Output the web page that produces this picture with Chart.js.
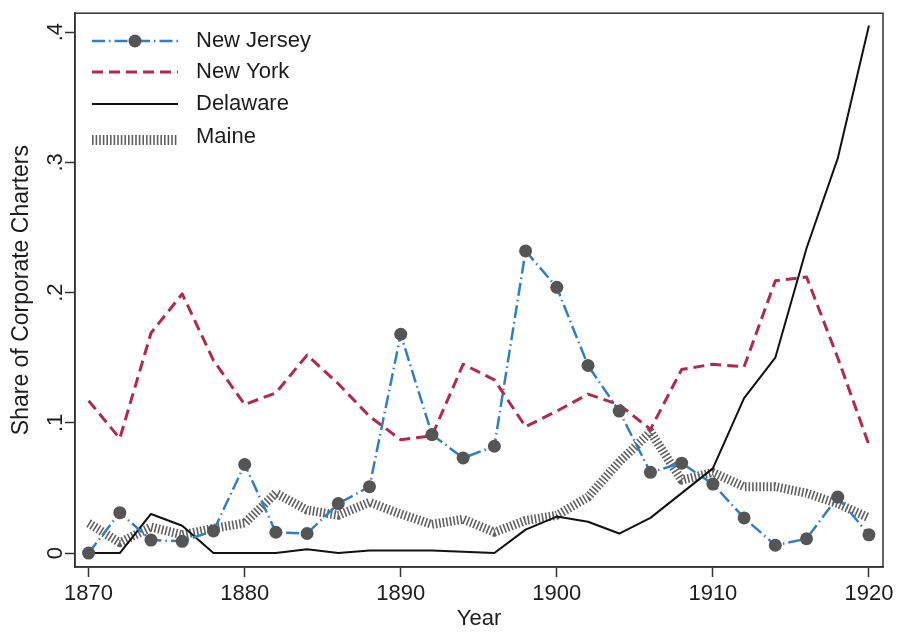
<!DOCTYPE html>
<html>
<head>
<meta charset="utf-8">
<script src="https://cdn.jsdelivr.net/npm/chart.js@4.4.0/dist/chart.umd.min.js"></script>
<style>
  html, body { margin: 0; padding: 0; background: #fff; }
  #wrap { width: 899px; height: 636px; }
</style>
</head>
<body>
<div id="wrap"><canvas id="chart" width="899" height="636"></canvas></div>
<script>
// --- Datos ---
const years = [1870, 1872, 1874, 1876, 1878, 1880, 1882, 1884, 1886, 1888, 1890, 1892, 1894,
               1896, 1898, 1900, 1902, 1904, 1906, 1908, 1910, 1912, 1914, 1916, 1918, 1920];
const newJersey = [0, 0.031, 0.010, 0.009, 0.017, 0.068, 0.016, 0.015, 0.038, 0.051, 0.168, 0.091, 0.073,
                   0.082, 0.232, 0.204, 0.144, 0.109, 0.062, 0.069, 0.053, 0.027, 0.006, 0.011, 0.043, 0.014];
const newYork = [0.117, 0.088, 0.169, 0.199, 0.148, 0.114, 0.123, 0.152, 0.130, 0.105, 0.087, 0.090, 0.145,
                 0.133, 0.097, 0.109, 0.122, 0.114, 0.095, 0.141, 0.145, 0.143, 0.209, 0.212, 0.150, 0.083];
const delaware = [0, 0, 0.030, 0.021, 0, 0, 0, 0.003, 0, 0.002, 0.002, 0.002, 0.001,
                  0, 0.018, 0.028, 0.024, 0.015, 0.027, 0.046, 0.065, 0.119, 0.150, 0.234, 0.303, 0.405];
const maine = [0.023, 0.008, 0.020, 0.014, 0.019, 0.023, 0.046, 0.033, 0.029, 0.039, 0.030, 0.022, 0.026,
               0.016, 0.025, 0.029, 0.043, 0.070, 0.093, 0.056, 0.062, 0.051, 0.051, 0.046, 0.038, 0.027];
const xTicks = [1870, 1880, 1890, 1900, 1910, 1920];
const yTicks = [0, 0.1, 0.2, 0.3, 0.4];
const seriesNames = ['New Jersey', 'New York', 'Delaware', 'Maine'];

const FONT = '"Liberation Sans", Arial, sans-serif';
const INK = '#1c1c1c';

const toPoints = vals => years.map((x, i) => ({ x: x, y: vals[i] }));

// Estilos de cada serie (para el gráfico y la leyenda)
const styles = [
  { color: '#2f7fc2', width: 2.5, dash: [13, 4, 1.5, 4], point: true },
  { color: '#b02a4e', width: 3, dash: [11, 6], point: false },
  { color: '#111', width: 2, dash: [], point: false },
  { color: '#606060', width: 9, dash: [1.6, 2], point: false }
];

// Marco completo alrededor del área del gráfico
const framePlugin = {
  id: 'frame',
  afterDatasetsDraw(chart) {
    const a = chart.chartArea, ctx = chart.ctx;
    ctx.save();
    ctx.strokeStyle = '#333';
    ctx.lineWidth = 1.5;
    ctx.strokeRect(a.left, a.top, a.right - a.left, a.bottom - a.top);
    ctx.restore();
  }
};

// Leyenda dentro del gráfico (arriba a la izquierda)
const legendPlugin = {
  id: 'innerLegend',
  afterDraw(chart) {
    const ctx = chart.ctx;
    const x0 = 92, x1 = 178, tx = 196;
    const rows = [41, 72, 104, 137];
    ctx.save();
    seriesNames.forEach((name, i) => {
      const s = styles[i];
      const y = rows[i] + (i === 3 ? 3 : 0);
      ctx.beginPath();
      ctx.setLineDash(s.dash);
      ctx.lineWidth = i === 3 ? 10 : s.width;
      ctx.strokeStyle = s.color;
      ctx.moveTo(x0, y);
      ctx.lineTo(x1, y);
      ctx.stroke();
      if (s.point) {
        ctx.setLineDash([]);
        ctx.beginPath();
        ctx.arc((x0 + x1) / 2, y, 6.5, 0, Math.PI * 2);
        ctx.fillStyle = '#555';
        ctx.fill();
      }
      ctx.setLineDash([]);
      ctx.fillStyle = INK;
      ctx.font = '22px ' + FONT;
      ctx.textBaseline = 'middle';
      ctx.textAlign = 'left';
      ctx.fillText(name, tx, rows[i]);
    });
    ctx.restore();
  }
};

const series = [newJersey, newYork, delaware, maine];
const datasets = series.map((vals, i) => ({
  label: seriesNames[i],
  data: toPoints(vals),
  borderColor: styles[i].color,
  borderWidth: styles[i].width,
  borderDash: styles[i].dash,
  borderCapStyle: 'butt',
  borderJoinStyle: 'round',
  pointRadius: styles[i].point ? 6.5 : 0,
  pointBackgroundColor: '#555',
  pointBorderWidth: 0,
  tension: 0,
  fill: false
}));

new Chart(document.getElementById('chart').getContext('2d'), {
  type: 'line',
  data: { datasets: datasets },
  options: {
    responsive: false,
    animation: false,
    layout: { padding: { top: 10, right: 16, left: 0, bottom: 0 } },
    plugins: {
      legend: { display: false },
      tooltip: { enabled: false }
    },
    scales: {
      x: {
        type: 'linear',
        min: 1869.13,
        max: 1920.9,
        afterBuildTicks: s => { s.ticks = xTicks.map(v => ({ value: v })); },
        afterFit: s => { s.height = 69; },
        grid: { drawOnChartArea: false, tickLength: 10, color: '#333', tickWidth: 1.5 },
        border: { display: true, color: '#333', width: 1.5 },
        ticks: {
          color: INK,
          font: { family: FONT, size: 22 },
          padding: 4,
          maxRotation: 0,
          callback: v => String(v)
        },
        title: {
          display: true,
          text: 'Year',
          color: INK,
          font: { family: FONT, size: 22 },
          padding: { top: 0, bottom: 4 }
        }
      },
      y: {
        min: -0.0107,
        max: 0.4145,
        afterBuildTicks: s => { s.ticks = yTicks.map(v => ({ value: v })); },
        afterFit: s => { s.width = 75; },
        grid: { drawOnChartArea: false, tickLength: 10, color: '#333', tickWidth: 1.5 },
        border: { display: true, color: '#333', width: 1.5 },
        ticks: {
          color: INK,
          font: { family: FONT, size: 22 },
          minRotation: 90,
          maxRotation: 90,
          crossAlign: 'center',
          padding: 0,
          callback: v => v === 0 ? '0' : String(Math.round(v * 10) / 10).replace('0.', '.')
        },
        title: {
          display: true,
          text: 'Share of Corporate Charters',
          color: INK,
          font: { family: FONT, size: 23 },
          padding: { top: 8, bottom: 0 }
        }
      }
    }
  },
  plugins: [framePlugin, legendPlugin]
});
</script>
</body>
</html>
